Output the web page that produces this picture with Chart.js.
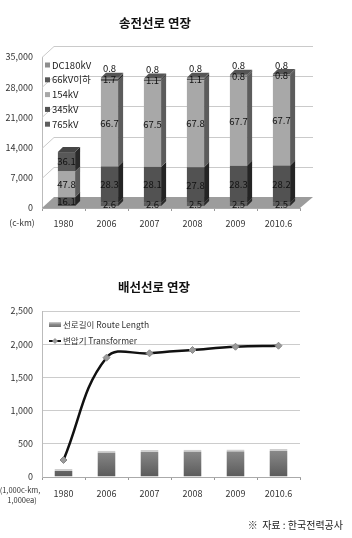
<!DOCTYPE html>
<html>
<head>
<meta charset="utf-8">
<script src="https://cdn.jsdelivr.net/npm/chart.js@4"></script>
<style>
  body { margin: 0; background: #fff; width: 352px; height: 538px; position: relative; overflow: hidden; }
  canvas { position: absolute; left: 0; }
  #top { top: 0; }
  #bottom { top: 260px; }
</style>
</head>
<body>
<canvas id="top" width="352" height="240"></canvas>
<canvas id="bottom" width="352" height="278"></canvas>
<script>
const years = ['1980', '2006', '2007', '2008', '2009', '2010.6'];

// transmission lines, c-km total and share (%) by voltage
const totalKm = [12500, 29700, 29500, 29700, 30400, 30600];
const pct765 = [null, 2.6, 2.6, 2.5, 2.5, 2.5];
const pct345 = [16.1, 28.3, 28.1, 27.8, 28.3, 28.2];
const pct154 = [47.8, 66.7, 67.5, 67.8, 67.7, 67.7];
const pct66 = [36.1, 1.7, 1.1, 1.1, 0.8, 0.8];
const pctDC = [null, 0.8, 0.8, 0.8, 0.8, 0.8];
const voltLabels = ['765kV', '345kV', '154kV', '66kV이하', 'DC180kV'];
const topTicks = [0, 7000, 14000, 21000, 28000, 35000];

// distribution lines (1,000c-km) and transformers (1,000ea)
const routeLength = [120, 395, 405, 410, 415, 420];
const transformer = [256, 1797, 1863, 1913, 1962, 1977];

const FONT = "'Noto Sans CJK KR', 'Noto Sans', sans-serif";
Chart.defaults.font.family = FONT;
Chart.defaults.color = '#333';
Chart.defaults.animation = false;

const pcts = [pct765, pct345, pct154, pct66, pctDC];
const fronts = ['#5e5e5e', '#525252', '#a8a8a8', '#585858', '#8e8e8e'];
const sides = ['#2a2a2a', '#242424', '#5c5c5c', '#2a2a2a', '#3c3c3c'];
const tops = ['#464646', '#444444', '#8c8c8c', '#464646', '#555555'];
const DX = 5, DY = 5, SHIFT_X = 3, SHIFT_Y = -2;

const stage3d = {
  id: 'stage3d',
  beforeDatasetsDraw(chart) {
    const { ctx, chartArea: a } = chart;
    const y = chart.scales.y;
    ctx.save();
    // floor
    ctx.fillStyle = '#9c9c9c';
    ctx.beginPath();
    ctx.moveTo(a.left, a.bottom);
    ctx.lineTo(a.right, a.bottom);
    ctx.lineTo(a.right + 13, a.bottom - 11);
    ctx.lineTo(a.left + 12, a.bottom - 11);
    ctx.closePath();
    ctx.fill();
    // back wall grid
    ctx.strokeStyle = '#cacaca';
    ctx.lineWidth = 1;
    topTicks.slice(1).forEach(v => {
      const py = Math.round(y.getPixelForValue(v)) + 0.5;
      ctx.beginPath();
      ctx.moveTo(a.left, py);
      ctx.lineTo(a.left + 12, py - 11);
      ctx.lineTo(a.right + 13, py - 11);
      ctx.stroke();
    });
    ctx.restore();
    ctx.save();
    ctx.translate(SHIFT_X, SHIFT_Y);
  },
  afterDatasetsDraw(chart) {
    const { ctx } = chart;
    // side faces and top faces
    years.forEach((yr, j) => {
      let topIdx = -1;
      pcts.forEach((p, i) => {
        if (!p[j]) return;
        topIdx = i;
        const el = chart.getDatasetMeta(i).data[j];
        const r = el.x + el.width / 2;
        ctx.fillStyle = sides[i];
        ctx.beginPath();
        ctx.moveTo(r, el.y);
        ctx.lineTo(r + DX, el.y - DY);
        ctx.lineTo(r + DX, el.base - DY);
        ctx.lineTo(r, el.base);
        ctx.closePath();
        ctx.fill();
      });
      const el = chart.getDatasetMeta(topIdx).data[j];
      const l = el.x - el.width / 2, r = el.x + el.width / 2;
      ctx.fillStyle = tops[topIdx];
      ctx.beginPath();
      ctx.moveTo(l, el.y);
      ctx.lineTo(l + DX, el.y - DY);
      ctx.lineTo(r + DX, el.y - DY);
      ctx.lineTo(r, el.y);
      ctx.closePath();
      ctx.fill();
    });
    // value labels
    ctx.fillStyle = '#111';
    ctx.font = '9.5px ' + FONT;
    ctx.textAlign = 'center';
    ctx.textBaseline = 'middle';
    pcts.forEach((p, i) => {
      chart.getDatasetMeta(i).data.forEach((el, j) => {
        if (p[j] == null) return;
        let ly = (el.y + el.base) / 2;
        if (i === 4) ly = el.y - 9;
        ctx.fillText(p[j].toFixed(1), el.x, ly);
      });
    });
    ctx.restore();
  },
  afterDraw(chart) {
    const { ctx, chartArea: a } = chart;
    ctx.save();
    // legend, reversed stack order
    ctx.font = '9.5px ' + FONT;
    ctx.textBaseline = 'middle';
    ctx.textAlign = 'left';
    [4, 3, 2, 1, 0].forEach((i, k) => {
      const ly = 65 + k * 14.8;
      ctx.fillStyle = fronts[i];
      ctx.fillRect(a.left + 3, ly - 2.5, 5, 5);
      ctx.fillStyle = '#222';
      ctx.fillText(voltLabels[i], a.left + 10, ly);
    });
    ctx.font = 'bold 12.5px ' + FONT;
    ctx.textAlign = 'center';
    ctx.fillStyle = '#111';
    ctx.fillText('송전선로 연장', 155, 23);
    ctx.font = '8.5px ' + FONT;
    ctx.fillStyle = '#333';
    ctx.fillText('(c-km)', 22, 223);
    ctx.restore();
  }
};

new Chart(document.getElementById('top'), {
  type: 'bar',
  data: {
    labels: years,
    datasets: pcts.map((p, i) => ({
      label: voltLabels[i],
      data: p.map((v, j) => v == null ? null : totalKm[j] * v / 100),
      backgroundColor: fronts[i],
      barPercentage: 0.4,
      categoryPercentage: 1
    }))
  },
  options: {
    responsive: false,
    layout: { padding: { top: 57, right: 52, left: 0, bottom: 0 } },
    plugins: { legend: { display: false }, tooltip: { enabled: false } },
    scales: {
      x: {
        stacked: true,
        grid: { display: true, drawOnChartArea: false, tickLength: 3, color: '#999' },
        border: { color: '#aaa' },
        ticks: { padding: 7, font: { size: 9 }, color: '#333' },
        afterFit: s => { s.height = 32; }
      },
      y: {
        stacked: true,
        min: 0,
        max: 35000,
        afterBuildTicks: s => { s.ticks = topTicks.map(v => ({ value: v })); },
        grid: { display: false, drawTicks: false },
        border: { color: '#bbb' },
        ticks: { padding: 9, font: { size: 9 }, color: '#333' },
        afterFit: s => { s.width = 42; }
      }
    }
  },
  plugins: [stage3d]
});

const lowerDeco = {
  id: 'lowerDeco',
  afterDraw(chart) {
    const { ctx, chartArea: a } = chart;
    ctx.save();
    ctx.font = '8.5px ' + FONT;
    ctx.textBaseline = 'middle';
    ctx.textAlign = 'left';
    // legend
    const g = ctx.createLinearGradient(0, 62, 0, 68);
    g.addColorStop(0, '#d0d0d0');
    g.addColorStop(0.4, '#8a8a8a');
    g.addColorStop(1, '#666');
    ctx.fillStyle = g;
    ctx.fillRect(a.left + 7, 62, 12, 5);
    ctx.fillStyle = '#333';
    ctx.fillText('선로길이 Route Length', a.left + 21, 65);
    ctx.strokeStyle = '#111';
    ctx.lineWidth = 2;
    ctx.beginPath();
    ctx.moveTo(a.left + 7, 81);
    ctx.lineTo(a.left + 19, 81);
    ctx.stroke();
    ctx.fillStyle = '#999';
    ctx.beginPath();
    ctx.moveTo(a.left + 13, 78);
    ctx.lineTo(a.left + 16, 81);
    ctx.lineTo(a.left + 13, 84);
    ctx.lineTo(a.left + 10, 81);
    ctx.closePath();
    ctx.fill();
    ctx.fillStyle = '#333';
    ctx.fillText('변압기 Transformer', a.left + 21, 81);
    // title
    ctx.font = 'bold 12.5px ' + FONT;
    ctx.textAlign = 'center';
    ctx.fillStyle = '#111';
    ctx.fillText('배선선로 연장', 154, 27);
    // unit
    ctx.font = '7.5px ' + FONT;
    ctx.fillStyle = '#333';
    ctx.fillText('(1,000c-km,', 20, 230);
    ctx.fillText('1,000ea)', 22, 240);
    // source
    ctx.font = '10px ' + FONT;
    ctx.textAlign = 'right';
    ctx.fillStyle = '#222';
    ctx.fillText('※  자료 : 한국전력공사', 343, 265);
    ctx.restore();
  }
};

new Chart(document.getElementById('bottom'), {
  data: {
    labels: years,
    datasets: [
      {
        type: 'line',
        label: '변압기 Transformer',
        data: transformer,
        borderColor: '#111',
        borderWidth: 2.5,
        tension: 0.4,
        pointStyle: 'rectRot',
        pointRadius: 3.5,
        pointBackgroundColor: '#9a9a9a',
        pointBorderColor: '#888',
        pointBorderWidth: 1,
        order: 0
      },
      {
        type: 'bar',
        label: '선로길이 Route Length',
        data: routeLength,
        backgroundColor: ctx => {
          const a = ctx.chart.chartArea;
          if (!a) return '#777';
          const ys = ctx.chart.scales.y;
          const g = ctx.chart.ctx.createLinearGradient(0, ys.getPixelForValue(420), 0, a.bottom);
          g.addColorStop(0, '#8c8c8c');
          g.addColorStop(1, '#5a5a5a');
          return g;
        },
        borderColor: '#cfcfcf',
        borderWidth: { top: 2, left: 0, right: 0, bottom: 0 },
        borderSkipped: false,
        barPercentage: 0.42,
        categoryPercentage: 1,
        order: 1
      }
    ]
  },
  options: {
    responsive: false,
    layout: { padding: { top: 51, right: 52, left: 0, bottom: 0 } },
    plugins: { legend: { display: false }, tooltip: { enabled: false } },
    scales: {
      x: {
        grid: { display: true, drawOnChartArea: false, tickLength: 3, color: '#999' },
        border: { color: '#aaa' },
        ticks: { padding: 8, font: { size: 9 }, color: '#333' },
        afterFit: s => { s.height = 61; }
      },
      y: {
        min: 0,
        max: 2500,
        ticks: { stepSize: 500, padding: 9, font: { size: 9 }, color: '#333' },
        grid: { color: '#cccccc', drawTicks: false },
        border: { color: '#bbb' },
        afterFit: s => { s.width = 42; }
      }
    }
  },
  plugins: [lowerDeco]
});
</script>
</body>
</html>
